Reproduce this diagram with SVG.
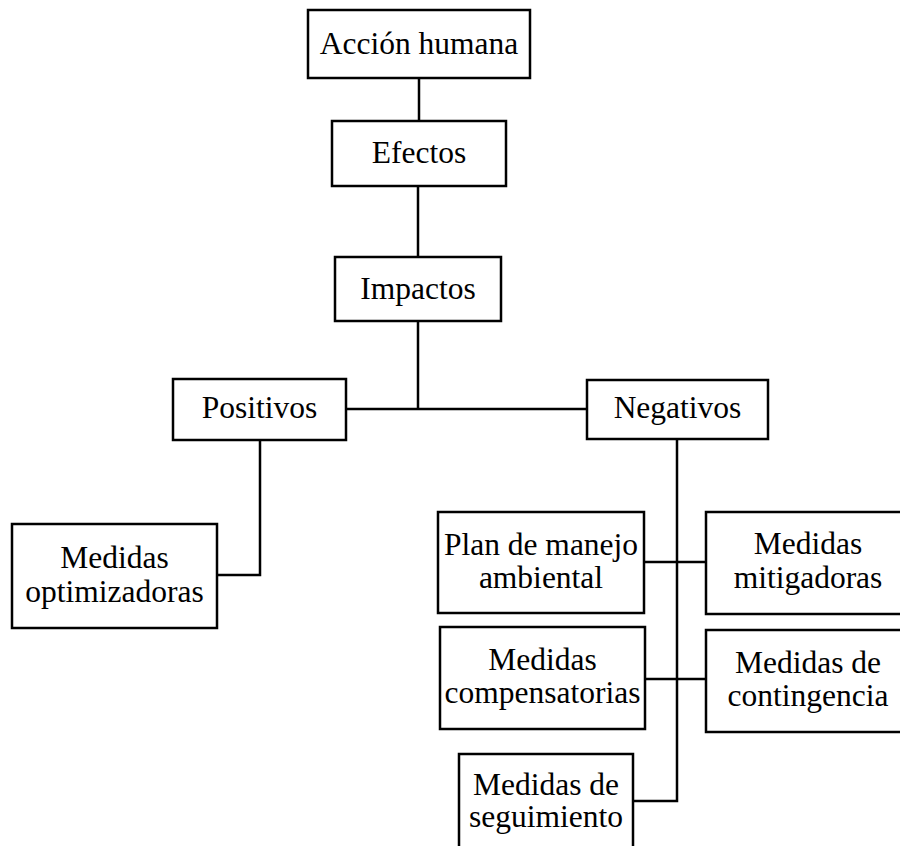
<svg xmlns="http://www.w3.org/2000/svg" width="900" height="846" viewBox="0 0 900 846">
<style>
rect{fill:#fff;stroke:#000;stroke-width:2.5}
text{font-family:"Liberation Serif","Times New Roman",serif;font-size:31.5px;fill:#000;text-anchor:middle}
#connectors path{fill:none;stroke:#000;stroke-width:2.5}
</style>
<rect x="0" y="0" width="900" height="846" style="stroke:none"/>
<g id="connectors">
<path d="M419 78V121"/>
<path d="M418 186V257"/>
<path d="M418 321V409"/>
<path d="M346 409H587"/>
<path d="M260 440V575H217"/>
<path d="M677 439V801H633"/>
<path d="M644 562H706"/>
<path d="M645 679H706"/>
</g>
<g id="accion"><rect x="308" y="10" width="222" height="68"/><text x="419" y="54">Acción humana</text></g>
<g id="efectos"><rect x="332" y="121" width="174" height="65"/><text x="419" y="163">Efectos</text></g>
<g id="impactos"><rect x="335" y="257" width="166" height="64"/><text x="418" y="299">Impactos</text></g>
<g id="positivos"><rect x="173" y="379" width="173" height="61"/><text x="259.5" y="418">Positivos</text></g>
<g id="negativos"><rect x="587" y="380" width="181" height="59"/><text x="677.5" y="418">Negativos</text></g>
<g id="optimizadoras"><rect x="12" y="524" width="205" height="104"/><text x="114.5" y="568">Medidas</text><text x="114.5" y="602">optimizadoras</text></g>
<g id="plan"><rect x="438" y="512" width="206" height="101"/><text x="541" y="555">Plan de manejo</text><text x="541" y="588">ambiental</text></g>
<g id="mitigadoras"><rect x="706" y="512" width="196" height="102"/><text x="808" y="554">Medidas</text><text x="808" y="588">mitigadoras</text></g>
<g id="compensatorias"><rect x="440" y="627" width="205" height="102"/><text x="542.5" y="670">Medidas</text><text x="542.5" y="703">compensatorias</text></g>
<g id="contingencia"><rect x="706" y="630" width="196" height="102"/><text x="808" y="673">Medidas de</text><text x="808" y="706">contingencia</text></g>
<g id="seguimiento"><rect x="459" y="754" width="174" height="100"/><text x="546" y="795">Medidas de</text><text x="546" y="827">seguimiento</text></g>
</svg>
